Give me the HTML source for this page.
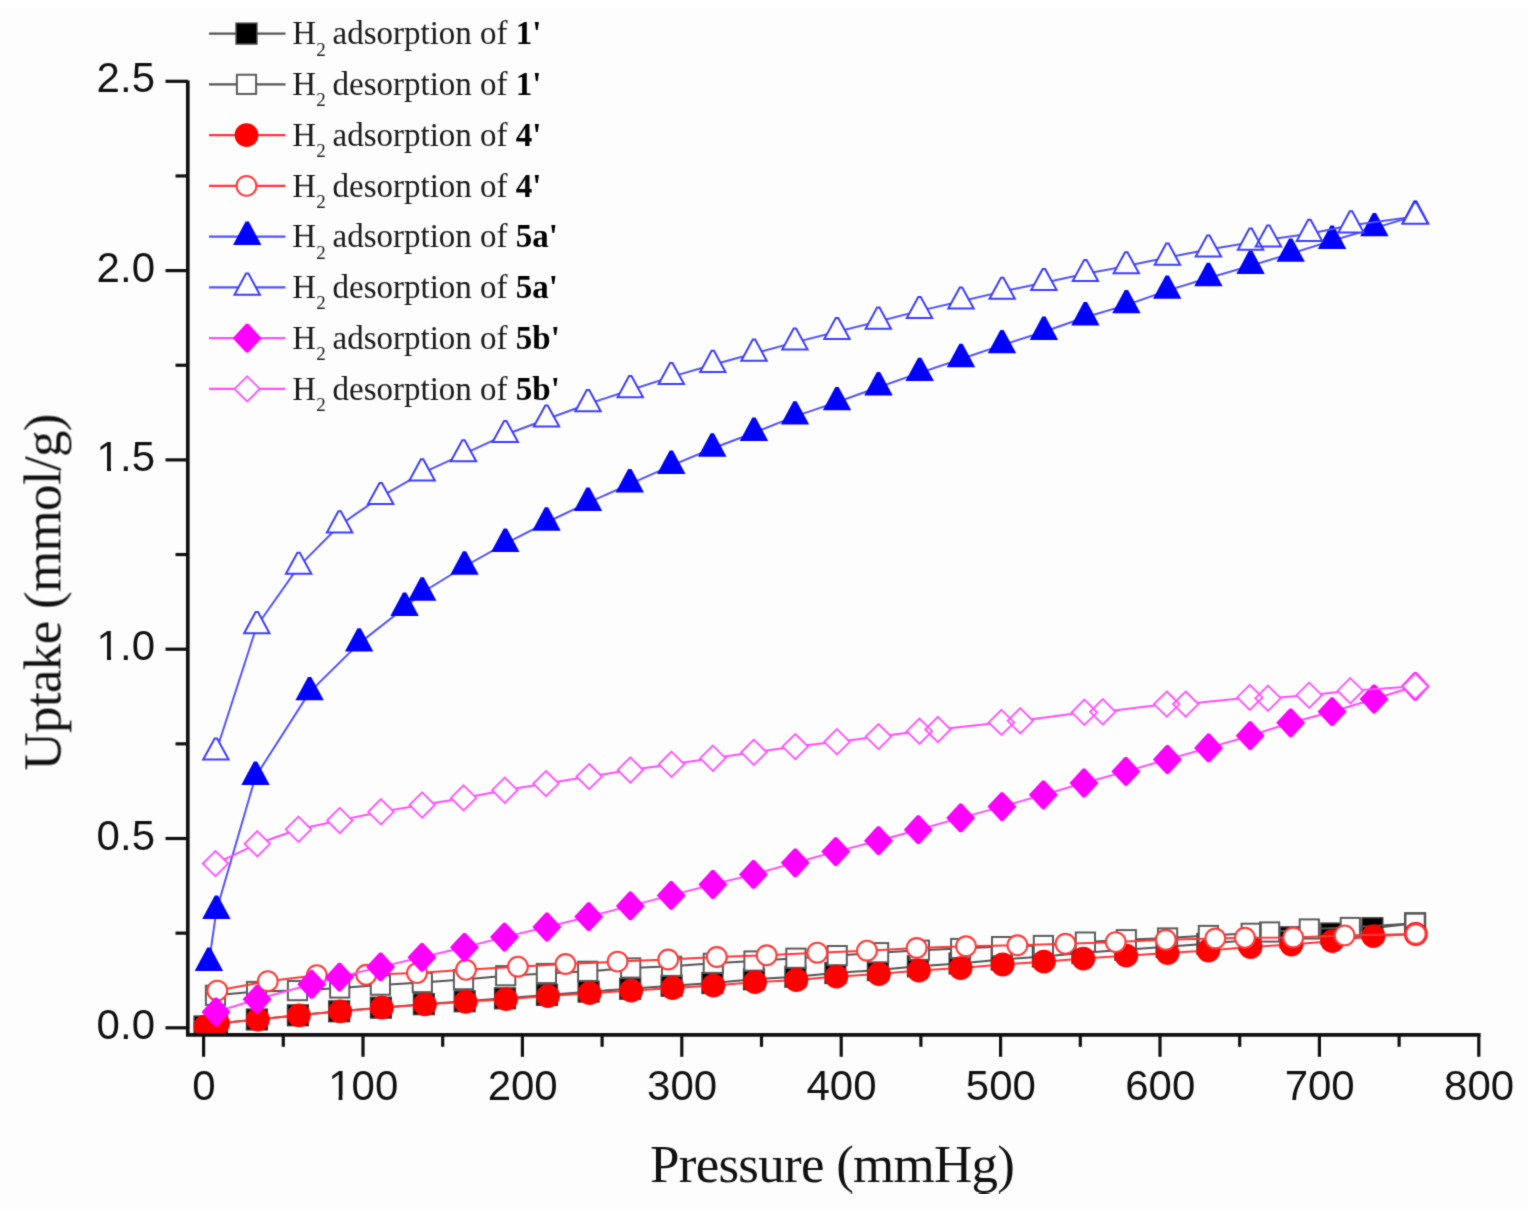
<!DOCTYPE html>
<html><head><meta charset="utf-8"><title>H2 uptake</title>
<style>
html,body{margin:0;padding:0;background:#fdfdfd;}
body{width:1528px;height:1211px;overflow:hidden;}
svg{display:block;}
.tk{font-family:"Liberation Sans",Arial,sans-serif;font-size:42px;fill:#111;}
.ttl{font-family:"Liberation Serif","Times New Roman",serif;font-size:53px;fill:#111;}
.lg{font-family:"Liberation Serif","Times New Roman",serif;font-size:33px;fill:#1a1a1a;}
.sub{font-size:19px;}
.b{font-weight:bold;fill:#000;}
</style></head>
<body>
<svg width="1528" height="1211" viewBox="0 0 1528 1211">
<rect x="0" y="0" width="1528" height="1211" fill="#fdfdfd"/>
<rect x="0" y="0" width="1528" height="8" fill="#fff"/>
<rect x="0" y="1209" width="1528" height="2" fill="#fff"/>
<defs><filter id="soft" x="0" y="0" width="1" height="1" color-interpolation-filters="sRGB"><feConvolveMatrix order="3" kernelMatrix="0.0367 0.1915 0.0367 0.1915 1.0000 0.1915 0.0367 0.1915 0.0367" edgeMode="duplicate"/></filter></defs>
<g filter="url(#soft)">
<defs><clipPath id="pc"><rect x="187.8" y="0" width="1340.2" height="1034.9"/></clipPath></defs>
<g id="plot" clip-path="url(#pc)">
<polyline points="204.5,1026.5 217,1023.5 256.9,1019.5 297.9,1015.3 339.2,1011.3 380.9,1007.7 423.9,1004.2 464.7,1001.26 505,998.33 547,994.88 588.6,991.64 630.2,988.8 671.6,985.76 712.4,983.03 754,979.28 795.4,976.74 835.4,973.02 877.9,970.07 917.9,966.34 959.6,963.5 1001.7,959.55 1042.9,956.41 1082.4,952.99 1125.3,949.73 1166.6,946.8 1207.4,943.86 1249.5,940.01 1290.4,937.28 1331.3,933.54 1372.4,928.2 1415.1,923.3" fill="none" stroke="#555555" stroke-width="2" stroke-linejoin="round"/>
<rect x="194.2" y="1016.2" width="20.6" height="20.6" fill="#000" stroke="#3c3c3c" stroke-width="1.6"/>
<rect x="206.7" y="1013.2" width="20.6" height="20.6" fill="#000" stroke="#3c3c3c" stroke-width="1.6"/>
<rect x="246.6" y="1009.2" width="20.6" height="20.6" fill="#000" stroke="#3c3c3c" stroke-width="1.6"/>
<rect x="287.6" y="1005" width="20.6" height="20.6" fill="#000" stroke="#3c3c3c" stroke-width="1.6"/>
<rect x="328.9" y="1001" width="20.6" height="20.6" fill="#000" stroke="#3c3c3c" stroke-width="1.6"/>
<rect x="370.6" y="997.4" width="20.6" height="20.6" fill="#000" stroke="#3c3c3c" stroke-width="1.6"/>
<rect x="413.6" y="993.9" width="20.6" height="20.6" fill="#000" stroke="#3c3c3c" stroke-width="1.6"/>
<rect x="454.4" y="990.96" width="20.6" height="20.6" fill="#000" stroke="#3c3c3c" stroke-width="1.6"/>
<rect x="494.7" y="988.03" width="20.6" height="20.6" fill="#000" stroke="#3c3c3c" stroke-width="1.6"/>
<rect x="536.7" y="984.58" width="20.6" height="20.6" fill="#000" stroke="#3c3c3c" stroke-width="1.6"/>
<rect x="578.3" y="981.34" width="20.6" height="20.6" fill="#000" stroke="#3c3c3c" stroke-width="1.6"/>
<rect x="619.9" y="978.5" width="20.6" height="20.6" fill="#000" stroke="#3c3c3c" stroke-width="1.6"/>
<rect x="661.3" y="975.46" width="20.6" height="20.6" fill="#000" stroke="#3c3c3c" stroke-width="1.6"/>
<rect x="702.1" y="972.73" width="20.6" height="20.6" fill="#000" stroke="#3c3c3c" stroke-width="1.6"/>
<rect x="743.7" y="968.98" width="20.6" height="20.6" fill="#000" stroke="#3c3c3c" stroke-width="1.6"/>
<rect x="785.1" y="966.44" width="20.6" height="20.6" fill="#000" stroke="#3c3c3c" stroke-width="1.6"/>
<rect x="825.1" y="962.72" width="20.6" height="20.6" fill="#000" stroke="#3c3c3c" stroke-width="1.6"/>
<rect x="867.6" y="959.77" width="20.6" height="20.6" fill="#000" stroke="#3c3c3c" stroke-width="1.6"/>
<rect x="907.6" y="956.04" width="20.6" height="20.6" fill="#000" stroke="#3c3c3c" stroke-width="1.6"/>
<rect x="949.3" y="953.2" width="20.6" height="20.6" fill="#000" stroke="#3c3c3c" stroke-width="1.6"/>
<rect x="991.4" y="949.25" width="20.6" height="20.6" fill="#000" stroke="#3c3c3c" stroke-width="1.6"/>
<rect x="1032.6" y="946.11" width="20.6" height="20.6" fill="#000" stroke="#3c3c3c" stroke-width="1.6"/>
<rect x="1072.1" y="942.69" width="20.6" height="20.6" fill="#000" stroke="#3c3c3c" stroke-width="1.6"/>
<rect x="1115" y="939.43" width="20.6" height="20.6" fill="#000" stroke="#3c3c3c" stroke-width="1.6"/>
<rect x="1156.3" y="936.5" width="20.6" height="20.6" fill="#000" stroke="#3c3c3c" stroke-width="1.6"/>
<rect x="1197.1" y="933.56" width="20.6" height="20.6" fill="#000" stroke="#3c3c3c" stroke-width="1.6"/>
<rect x="1239.2" y="929.71" width="20.6" height="20.6" fill="#000" stroke="#3c3c3c" stroke-width="1.6"/>
<rect x="1280.1" y="926.98" width="20.6" height="20.6" fill="#000" stroke="#3c3c3c" stroke-width="1.6"/>
<rect x="1321" y="923.24" width="20.6" height="20.6" fill="#000" stroke="#3c3c3c" stroke-width="1.6"/>
<rect x="1362.1" y="917.9" width="20.6" height="20.6" fill="#000" stroke="#3c3c3c" stroke-width="1.6"/>
<rect x="1404.8" y="913" width="20.6" height="20.6" fill="#000" stroke="#3c3c3c" stroke-width="1.6"/>
<polyline points="215.5,995.3 256.6,991.5 297.5,990.6 339.7,988 380.4,985.1 422.3,982.5 463.5,979.6 505.7,975.7 546.4,973.5 587.7,971.3 630.7,968 671.6,966.3 713.3,963.3 754,961 795.9,958.2 837.2,955.6 878.6,952.7 919.4,950.2 960.7,948.5 1001.6,946.6 1043.4,945.5 1085.4,942.1 1126.3,939.7 1167.6,938 1208.4,935.5 1251.2,933.3 1269.6,932 1309.3,929 1350.3,927.5 1415.1,923.3" fill="none" stroke="#555555" stroke-width="2" stroke-linejoin="round"/>
<g fill="#fff" stroke="none"><rect x="1405.5" y="913.7" width="19.2" height="19.2"/><rect x="1340.7" y="917.9" width="19.2" height="19.2"/><rect x="1299.7" y="919.4" width="19.2" height="19.2"/><rect x="1260" y="922.4" width="19.2" height="19.2"/><rect x="1241.6" y="923.7" width="19.2" height="19.2"/><rect x="1198.8" y="925.9" width="19.2" height="19.2"/><rect x="1158" y="928.4" width="19.2" height="19.2"/><rect x="1116.7" y="930.1" width="19.2" height="19.2"/><rect x="1075.8" y="932.5" width="19.2" height="19.2"/><rect x="1033.8" y="935.9" width="19.2" height="19.2"/><rect x="992" y="937" width="19.2" height="19.2"/><rect x="951.1" y="938.9" width="19.2" height="19.2"/><rect x="909.8" y="940.6" width="19.2" height="19.2"/><rect x="869" y="943.1" width="19.2" height="19.2"/><rect x="827.6" y="946" width="19.2" height="19.2"/><rect x="786.3" y="948.6" width="19.2" height="19.2"/><rect x="744.4" y="951.4" width="19.2" height="19.2"/><rect x="703.7" y="953.7" width="19.2" height="19.2"/><rect x="662" y="956.7" width="19.2" height="19.2"/><rect x="621.1" y="958.4" width="19.2" height="19.2"/><rect x="578.1" y="961.7" width="19.2" height="19.2"/><rect x="536.8" y="963.9" width="19.2" height="19.2"/><rect x="496.1" y="966.1" width="19.2" height="19.2"/><rect x="453.9" y="970" width="19.2" height="19.2"/><rect x="412.7" y="972.9" width="19.2" height="19.2"/><rect x="370.8" y="975.5" width="19.2" height="19.2"/><rect x="330.1" y="978.4" width="19.2" height="19.2"/><rect x="287.9" y="981" width="19.2" height="19.2"/><rect x="247" y="981.9" width="19.2" height="19.2"/><rect x="205.9" y="985.7" width="19.2" height="19.2"/></g><g fill="none" stroke="#5c5c5c" stroke-width="2" stroke-linejoin="miter"><rect x="1405.5" y="913.7" width="19.2" height="19.2"/><rect x="1340.7" y="917.9" width="19.2" height="19.2"/><rect x="1299.7" y="919.4" width="19.2" height="19.2"/><rect x="1260" y="922.4" width="19.2" height="19.2"/><rect x="1241.6" y="923.7" width="19.2" height="19.2"/><rect x="1198.8" y="925.9" width="19.2" height="19.2"/><rect x="1158" y="928.4" width="19.2" height="19.2"/><rect x="1116.7" y="930.1" width="19.2" height="19.2"/><rect x="1075.8" y="932.5" width="19.2" height="19.2"/><rect x="1033.8" y="935.9" width="19.2" height="19.2"/><rect x="992" y="937" width="19.2" height="19.2"/><rect x="951.1" y="938.9" width="19.2" height="19.2"/><rect x="909.8" y="940.6" width="19.2" height="19.2"/><rect x="869" y="943.1" width="19.2" height="19.2"/><rect x="827.6" y="946" width="19.2" height="19.2"/><rect x="786.3" y="948.6" width="19.2" height="19.2"/><rect x="744.4" y="951.4" width="19.2" height="19.2"/><rect x="703.7" y="953.7" width="19.2" height="19.2"/><rect x="662" y="956.7" width="19.2" height="19.2"/><rect x="621.1" y="958.4" width="19.2" height="19.2"/><rect x="578.1" y="961.7" width="19.2" height="19.2"/><rect x="536.8" y="963.9" width="19.2" height="19.2"/><rect x="496.1" y="966.1" width="19.2" height="19.2"/><rect x="453.9" y="970" width="19.2" height="19.2"/><rect x="412.7" y="972.9" width="19.2" height="19.2"/><rect x="370.8" y="975.5" width="19.2" height="19.2"/><rect x="330.1" y="978.4" width="19.2" height="19.2"/><rect x="287.9" y="981" width="19.2" height="19.2"/><rect x="247" y="981.9" width="19.2" height="19.2"/><rect x="205.9" y="985.7" width="19.2" height="19.2"/></g>
<polyline points="205.5,1026.5 218,1023.5 257.9,1019.5 298.9,1015.3 340.2,1011.3 381.9,1007.7 424.9,1004.4 465.7,1001.8 506,999.2 548,996.1 589.6,993.2 631.2,990.7 672.6,988 713.4,985.6 755,982.2 796.4,980 836.4,976.6 878.9,974 918.9,970.6 960.6,968.1 1002.7,964.5 1043.9,961.7 1083.4,958.6 1126.3,955.7 1167.6,953.1 1208.4,950.5 1250.5,947 1291.4,944.6 1332.3,941.2 1373.4,936.2 1415.8,934" fill="none" stroke="#ff3636" stroke-width="2" stroke-linejoin="round"/>
<circle cx="205.5" cy="1026.5" r="11.9" fill="#f00"/>
<circle cx="218" cy="1023.5" r="11.9" fill="#f00"/>
<circle cx="257.9" cy="1019.5" r="11.9" fill="#f00"/>
<circle cx="298.9" cy="1015.3" r="11.9" fill="#f00"/>
<circle cx="340.2" cy="1011.3" r="11.9" fill="#f00"/>
<circle cx="381.9" cy="1007.7" r="11.9" fill="#f00"/>
<circle cx="424.9" cy="1004.4" r="11.9" fill="#f00"/>
<circle cx="465.7" cy="1001.8" r="11.9" fill="#f00"/>
<circle cx="506" cy="999.2" r="11.9" fill="#f00"/>
<circle cx="548" cy="996.1" r="11.9" fill="#f00"/>
<circle cx="589.6" cy="993.2" r="11.9" fill="#f00"/>
<circle cx="631.2" cy="990.7" r="11.9" fill="#f00"/>
<circle cx="672.6" cy="988" r="11.9" fill="#f00"/>
<circle cx="713.4" cy="985.6" r="11.9" fill="#f00"/>
<circle cx="755" cy="982.2" r="11.9" fill="#f00"/>
<circle cx="796.4" cy="980" r="11.9" fill="#f00"/>
<circle cx="836.4" cy="976.6" r="11.9" fill="#f00"/>
<circle cx="878.9" cy="974" r="11.9" fill="#f00"/>
<circle cx="918.9" cy="970.6" r="11.9" fill="#f00"/>
<circle cx="960.6" cy="968.1" r="11.9" fill="#f00"/>
<circle cx="1002.7" cy="964.5" r="11.9" fill="#f00"/>
<circle cx="1043.9" cy="961.7" r="11.9" fill="#f00"/>
<circle cx="1083.4" cy="958.6" r="11.9" fill="#f00"/>
<circle cx="1126.3" cy="955.7" r="11.9" fill="#f00"/>
<circle cx="1167.6" cy="953.1" r="11.9" fill="#f00"/>
<circle cx="1208.4" cy="950.5" r="11.9" fill="#f00"/>
<circle cx="1250.5" cy="947" r="11.9" fill="#f00"/>
<circle cx="1291.4" cy="944.6" r="11.9" fill="#f00"/>
<circle cx="1332.3" cy="941.2" r="11.9" fill="#f00"/>
<circle cx="1373.4" cy="936.2" r="11.9" fill="#f00"/>
<circle cx="1415.8" cy="934" r="11.9" fill="#f00"/>
<polyline points="217.3,990.6 267.8,981.2 316.8,975.2 366.2,974.8 417,973.1 466,969.8 517.9,966.7 565.5,964 617.6,961.6 668.2,959.5 716.8,957 766.7,955.3 817.3,952.7 867,950.7 916.7,948 966,946.3 1017.4,945.3 1065.5,943.8 1115.7,942.1 1165.8,939.8 1215.3,938.5 1244.9,937.8 1293.2,937.5 1344.6,935.4 1415.8,934" fill="none" stroke="#ff3636" stroke-width="2" stroke-linejoin="round"/>
<g fill="#fff" stroke="none"><circle cx="1415.8" cy="934" r="9.9"/><circle cx="1344.6" cy="935.4" r="9.9"/><circle cx="1293.2" cy="937.5" r="9.9"/><circle cx="1244.9" cy="937.8" r="9.9"/><circle cx="1215.3" cy="938.5" r="9.9"/><circle cx="1165.8" cy="939.8" r="9.9"/><circle cx="1115.7" cy="942.1" r="9.9"/><circle cx="1065.5" cy="943.8" r="9.9"/><circle cx="1017.4" cy="945.3" r="9.9"/><circle cx="966" cy="946.3" r="9.9"/><circle cx="916.7" cy="948" r="9.9"/><circle cx="867" cy="950.7" r="9.9"/><circle cx="817.3" cy="952.7" r="9.9"/><circle cx="766.7" cy="955.3" r="9.9"/><circle cx="716.8" cy="957" r="9.9"/><circle cx="668.2" cy="959.5" r="9.9"/><circle cx="617.6" cy="961.6" r="9.9"/><circle cx="565.5" cy="964" r="9.9"/><circle cx="517.9" cy="966.7" r="9.9"/><circle cx="466" cy="969.8" r="9.9"/><circle cx="417" cy="973.1" r="9.9"/><circle cx="366.2" cy="974.8" r="9.9"/><circle cx="316.8" cy="975.2" r="9.9"/><circle cx="267.8" cy="981.2" r="9.9"/><circle cx="217.3" cy="990.6" r="9.9"/></g><g fill="none" stroke="#ff3c3c" stroke-width="2.1" stroke-linejoin="miter"><circle cx="1415.8" cy="934" r="9.9"/><circle cx="1344.6" cy="935.4" r="9.9"/><circle cx="1293.2" cy="937.5" r="9.9"/><circle cx="1244.9" cy="937.8" r="9.9"/><circle cx="1215.3" cy="938.5" r="9.9"/><circle cx="1165.8" cy="939.8" r="9.9"/><circle cx="1115.7" cy="942.1" r="9.9"/><circle cx="1065.5" cy="943.8" r="9.9"/><circle cx="1017.4" cy="945.3" r="9.9"/><circle cx="966" cy="946.3" r="9.9"/><circle cx="916.7" cy="948" r="9.9"/><circle cx="867" cy="950.7" r="9.9"/><circle cx="817.3" cy="952.7" r="9.9"/><circle cx="766.7" cy="955.3" r="9.9"/><circle cx="716.8" cy="957" r="9.9"/><circle cx="668.2" cy="959.5" r="9.9"/><circle cx="617.6" cy="961.6" r="9.9"/><circle cx="565.5" cy="964" r="9.9"/><circle cx="517.9" cy="966.7" r="9.9"/><circle cx="466" cy="969.8" r="9.9"/><circle cx="417" cy="973.1" r="9.9"/><circle cx="366.2" cy="974.8" r="9.9"/><circle cx="316.8" cy="975.2" r="9.9"/><circle cx="267.8" cy="981.2" r="9.9"/><circle cx="217.3" cy="990.6" r="9.9"/></g>
<polyline points="208.9,962.8 216.4,910.8 255.5,776.7 309.6,692.1 359.1,643.4 404.6,607.8 422.2,592.5 464.5,566.5 505.3,543.7 546.5,522.5 588,502.7 629.8,484.2 671.3,465.7 712.3,448.5 754,432.7 795,416.4 837,402.1 878.5,387.3 919.7,372.9 961,359 1002,345.1 1043.9,331.7 1085.4,317.3 1126.4,305.1 1167.2,290.6 1208.4,278 1250.6,265.8 1290.7,253.6 1332.1,240.8 1374.4,228.1 1415.3,215.8" fill="none" stroke="#5252ff" stroke-width="2" stroke-linejoin="round"/>
<polygon points="207.3,947.6 210.5,947.6 223.1,971 194.7,971" fill="#00f"/>
<polygon points="214.8,895.6 218,895.6 230.6,919 202.2,919" fill="#00f"/>
<polygon points="253.9,761.5 257.1,761.5 269.7,784.9 241.3,784.9" fill="#00f"/>
<polygon points="308,676.9 311.2,676.9 323.8,700.3 295.4,700.3" fill="#00f"/>
<polygon points="357.5,628.2 360.7,628.2 373.3,651.6 344.9,651.6" fill="#00f"/>
<polygon points="403,592.6 406.2,592.6 418.8,616 390.4,616" fill="#00f"/>
<polygon points="420.6,577.3 423.8,577.3 436.4,600.7 408,600.7" fill="#00f"/>
<polygon points="462.9,551.3 466.1,551.3 478.7,574.7 450.3,574.7" fill="#00f"/>
<polygon points="503.7,528.5 506.9,528.5 519.5,551.9 491.1,551.9" fill="#00f"/>
<polygon points="544.9,507.3 548.1,507.3 560.7,530.7 532.3,530.7" fill="#00f"/>
<polygon points="586.4,487.5 589.6,487.5 602.2,510.9 573.8,510.9" fill="#00f"/>
<polygon points="628.2,469 631.4,469 644,492.4 615.6,492.4" fill="#00f"/>
<polygon points="669.7,450.5 672.9,450.5 685.5,473.9 657.1,473.9" fill="#00f"/>
<polygon points="710.7,433.3 713.9,433.3 726.5,456.7 698.1,456.7" fill="#00f"/>
<polygon points="752.4,417.5 755.6,417.5 768.2,440.9 739.8,440.9" fill="#00f"/>
<polygon points="793.4,401.2 796.6,401.2 809.2,424.6 780.8,424.6" fill="#00f"/>
<polygon points="835.4,386.9 838.6,386.9 851.2,410.3 822.8,410.3" fill="#00f"/>
<polygon points="876.9,372.1 880.1,372.1 892.7,395.5 864.3,395.5" fill="#00f"/>
<polygon points="918.1,357.7 921.3,357.7 933.9,381.1 905.5,381.1" fill="#00f"/>
<polygon points="959.4,343.8 962.6,343.8 975.2,367.2 946.8,367.2" fill="#00f"/>
<polygon points="1000.4,329.9 1003.6,329.9 1016.2,353.3 987.8,353.3" fill="#00f"/>
<polygon points="1042.3,316.5 1045.5,316.5 1058.1,339.9 1029.7,339.9" fill="#00f"/>
<polygon points="1083.8,302.1 1087,302.1 1099.6,325.5 1071.2,325.5" fill="#00f"/>
<polygon points="1124.8,289.9 1128,289.9 1140.6,313.3 1112.2,313.3" fill="#00f"/>
<polygon points="1165.6,275.4 1168.8,275.4 1181.4,298.8 1153,298.8" fill="#00f"/>
<polygon points="1206.8,262.8 1210,262.8 1222.6,286.2 1194.2,286.2" fill="#00f"/>
<polygon points="1249,250.6 1252.2,250.6 1264.8,274 1236.4,274" fill="#00f"/>
<polygon points="1289.1,238.4 1292.3,238.4 1304.9,261.8 1276.5,261.8" fill="#00f"/>
<polygon points="1330.5,225.6 1333.7,225.6 1346.3,249 1317.9,249" fill="#00f"/>
<polygon points="1372.8,212.9 1376,212.9 1388.6,236.3 1360.2,236.3" fill="#00f"/>
<polygon points="1413.7,200.6 1416.9,200.6 1429.5,224 1401.1,224" fill="#00f"/>
<polyline points="215.9,752.3 256.8,626 298.6,566.6 339.6,525.2 380.7,496.9 422.1,473.2 463.5,454.1 505.3,434.8 546.5,419.3 588,404 630.3,390 671.3,376.9 712.8,364.7 754,353.5 794.9,342.4 837,331.8 878.3,321.5 919.5,310.9 961,301.3 1002.2,291.6 1043.9,282.8 1085.4,273.8 1126.3,266.1 1167.4,257.5 1208.4,249.4 1250.6,242.5 1268.4,239.4 1309.4,233.7 1351,225.2 1415.3,216.6" fill="none" stroke="#5252ff" stroke-width="2" stroke-linejoin="round"/>
<g fill="#fff" stroke="none"><polygon points="1414.1,202.7 1416.5,202.7 1428,223.8 1402.6,223.8"/><polygon points="1349.8,211.3 1352.2,211.3 1363.7,232.4 1338.3,232.4"/><polygon points="1308.2,219.8 1310.6,219.8 1322.1,240.9 1296.7,240.9"/><polygon points="1267.2,225.5 1269.6,225.5 1281.1,246.6 1255.7,246.6"/><polygon points="1249.4,228.6 1251.8,228.6 1263.3,249.7 1237.9,249.7"/><polygon points="1207.2,235.5 1209.6,235.5 1221.1,256.6 1195.7,256.6"/><polygon points="1166.2,243.6 1168.6,243.6 1180.1,264.7 1154.7,264.7"/><polygon points="1125.1,252.2 1127.5,252.2 1139,273.3 1113.6,273.3"/><polygon points="1084.2,259.9 1086.6,259.9 1098.1,281 1072.7,281"/><polygon points="1042.7,268.9 1045.1,268.9 1056.6,290 1031.2,290"/><polygon points="1001,277.7 1003.4,277.7 1014.9,298.8 989.5,298.8"/><polygon points="959.8,287.4 962.2,287.4 973.7,308.5 948.3,308.5"/><polygon points="918.3,297 920.7,297 932.2,318.1 906.8,318.1"/><polygon points="877.1,307.6 879.5,307.6 891,328.7 865.6,328.7"/><polygon points="835.8,317.9 838.2,317.9 849.7,339 824.3,339"/><polygon points="793.7,328.5 796.1,328.5 807.6,349.6 782.2,349.6"/><polygon points="752.8,339.6 755.2,339.6 766.7,360.7 741.3,360.7"/><polygon points="711.6,350.8 714,350.8 725.5,371.9 700.1,371.9"/><polygon points="670.1,363 672.5,363 684,384.1 658.6,384.1"/><polygon points="629.1,376.1 631.5,376.1 643,397.2 617.6,397.2"/><polygon points="586.8,390.1 589.2,390.1 600.7,411.2 575.3,411.2"/><polygon points="545.3,405.4 547.7,405.4 559.2,426.5 533.8,426.5"/><polygon points="504.1,420.9 506.5,420.9 518,442 492.6,442"/><polygon points="462.3,440.2 464.7,440.2 476.2,461.3 450.8,461.3"/><polygon points="420.9,459.3 423.3,459.3 434.8,480.4 409.4,480.4"/><polygon points="379.5,483 381.9,483 393.4,504.1 368,504.1"/><polygon points="338.4,511.3 340.8,511.3 352.3,532.4 326.9,532.4"/><polygon points="297.4,552.7 299.8,552.7 311.3,573.8 285.9,573.8"/><polygon points="255.6,612.1 258,612.1 269.5,633.2 244.1,633.2"/><polygon points="214.7,738.4 217.1,738.4 228.6,759.5 203.2,759.5"/></g><g fill="none" stroke="#3d3dff" stroke-width="2" stroke-linejoin="miter"><polygon points="1414.1,202.7 1416.5,202.7 1428,223.8 1402.6,223.8"/><polygon points="1349.8,211.3 1352.2,211.3 1363.7,232.4 1338.3,232.4"/><polygon points="1308.2,219.8 1310.6,219.8 1322.1,240.9 1296.7,240.9"/><polygon points="1267.2,225.5 1269.6,225.5 1281.1,246.6 1255.7,246.6"/><polygon points="1249.4,228.6 1251.8,228.6 1263.3,249.7 1237.9,249.7"/><polygon points="1207.2,235.5 1209.6,235.5 1221.1,256.6 1195.7,256.6"/><polygon points="1166.2,243.6 1168.6,243.6 1180.1,264.7 1154.7,264.7"/><polygon points="1125.1,252.2 1127.5,252.2 1139,273.3 1113.6,273.3"/><polygon points="1084.2,259.9 1086.6,259.9 1098.1,281 1072.7,281"/><polygon points="1042.7,268.9 1045.1,268.9 1056.6,290 1031.2,290"/><polygon points="1001,277.7 1003.4,277.7 1014.9,298.8 989.5,298.8"/><polygon points="959.8,287.4 962.2,287.4 973.7,308.5 948.3,308.5"/><polygon points="918.3,297 920.7,297 932.2,318.1 906.8,318.1"/><polygon points="877.1,307.6 879.5,307.6 891,328.7 865.6,328.7"/><polygon points="835.8,317.9 838.2,317.9 849.7,339 824.3,339"/><polygon points="793.7,328.5 796.1,328.5 807.6,349.6 782.2,349.6"/><polygon points="752.8,339.6 755.2,339.6 766.7,360.7 741.3,360.7"/><polygon points="711.6,350.8 714,350.8 725.5,371.9 700.1,371.9"/><polygon points="670.1,363 672.5,363 684,384.1 658.6,384.1"/><polygon points="629.1,376.1 631.5,376.1 643,397.2 617.6,397.2"/><polygon points="586.8,390.1 589.2,390.1 600.7,411.2 575.3,411.2"/><polygon points="545.3,405.4 547.7,405.4 559.2,426.5 533.8,426.5"/><polygon points="504.1,420.9 506.5,420.9 518,442 492.6,442"/><polygon points="462.3,440.2 464.7,440.2 476.2,461.3 450.8,461.3"/><polygon points="420.9,459.3 423.3,459.3 434.8,480.4 409.4,480.4"/><polygon points="379.5,483 381.9,483 393.4,504.1 368,504.1"/><polygon points="338.4,511.3 340.8,511.3 352.3,532.4 326.9,532.4"/><polygon points="297.4,552.7 299.8,552.7 311.3,573.8 285.9,573.8"/><polygon points="255.6,612.1 258,612.1 269.5,633.2 244.1,633.2"/><polygon points="214.7,738.4 217.1,738.4 228.6,759.5 203.2,759.5"/></g>
<polyline points="216,1012 257.1,999.3 311.7,984.3 339.5,977.2 380.6,966.9 422,957.3 464.5,947.3 504.5,937.1 546.9,927 588.7,916.7 630.4,905.9 671.2,895.4 712.9,884.5 753.5,874.4 795.3,862.8 835.8,851.6 878.5,840.7 918.3,829.7 960.7,817.9 1002,806.6 1043.4,794.8 1084,783 1125.9,771.4 1167.4,759.5 1208.6,747.9 1250.2,735.7 1290.7,722.8 1332.1,711.7 1374.1,699 1415.3,686.3" fill="none" stroke="#ff4dff" stroke-width="2" stroke-linejoin="round"/>
<polygon points="214.8,997.6 217.2,997.6 230.5,1012 217.2,1026.4 214.8,1026.4 201.5,1012" fill="#f0f"/>
<polygon points="255.9,984.9 258.3,984.9 271.6,999.3 258.3,1013.7 255.9,1013.7 242.6,999.3" fill="#f0f"/>
<polygon points="310.5,969.9 312.9,969.9 326.2,984.3 312.9,998.7 310.5,998.7 297.2,984.3" fill="#f0f"/>
<polygon points="338.3,962.8 340.7,962.8 354,977.2 340.7,991.6 338.3,991.6 325,977.2" fill="#f0f"/>
<polygon points="379.4,952.5 381.8,952.5 395.1,966.9 381.8,981.3 379.4,981.3 366.1,966.9" fill="#f0f"/>
<polygon points="420.8,942.9 423.2,942.9 436.5,957.3 423.2,971.7 420.8,971.7 407.5,957.3" fill="#f0f"/>
<polygon points="463.3,932.9 465.7,932.9 479,947.3 465.7,961.7 463.3,961.7 450,947.3" fill="#f0f"/>
<polygon points="503.3,922.7 505.7,922.7 519,937.1 505.7,951.5 503.3,951.5 490,937.1" fill="#f0f"/>
<polygon points="545.7,912.6 548.1,912.6 561.4,927 548.1,941.4 545.7,941.4 532.4,927" fill="#f0f"/>
<polygon points="587.5,902.3 589.9,902.3 603.2,916.7 589.9,931.1 587.5,931.1 574.2,916.7" fill="#f0f"/>
<polygon points="629.2,891.5 631.6,891.5 644.9,905.9 631.6,920.3 629.2,920.3 615.9,905.9" fill="#f0f"/>
<polygon points="670,881 672.4,881 685.7,895.4 672.4,909.8 670,909.8 656.7,895.4" fill="#f0f"/>
<polygon points="711.7,870.1 714.1,870.1 727.4,884.5 714.1,898.9 711.7,898.9 698.4,884.5" fill="#f0f"/>
<polygon points="752.3,860 754.7,860 768,874.4 754.7,888.8 752.3,888.8 739,874.4" fill="#f0f"/>
<polygon points="794.1,848.4 796.5,848.4 809.8,862.8 796.5,877.2 794.1,877.2 780.8,862.8" fill="#f0f"/>
<polygon points="834.6,837.2 837,837.2 850.3,851.6 837,866 834.6,866 821.3,851.6" fill="#f0f"/>
<polygon points="877.3,826.3 879.7,826.3 893,840.7 879.7,855.1 877.3,855.1 864,840.7" fill="#f0f"/>
<polygon points="917.1,815.3 919.5,815.3 932.8,829.7 919.5,844.1 917.1,844.1 903.8,829.7" fill="#f0f"/>
<polygon points="959.5,803.5 961.9,803.5 975.2,817.9 961.9,832.3 959.5,832.3 946.2,817.9" fill="#f0f"/>
<polygon points="1000.8,792.2 1003.2,792.2 1016.5,806.6 1003.2,821 1000.8,821 987.5,806.6" fill="#f0f"/>
<polygon points="1042.2,780.4 1044.6,780.4 1057.9,794.8 1044.6,809.2 1042.2,809.2 1028.9,794.8" fill="#f0f"/>
<polygon points="1082.8,768.6 1085.2,768.6 1098.5,783 1085.2,797.4 1082.8,797.4 1069.5,783" fill="#f0f"/>
<polygon points="1124.7,757 1127.1,757 1140.4,771.4 1127.1,785.8 1124.7,785.8 1111.4,771.4" fill="#f0f"/>
<polygon points="1166.2,745.1 1168.6,745.1 1181.9,759.5 1168.6,773.9 1166.2,773.9 1152.9,759.5" fill="#f0f"/>
<polygon points="1207.4,733.5 1209.8,733.5 1223.1,747.9 1209.8,762.3 1207.4,762.3 1194.1,747.9" fill="#f0f"/>
<polygon points="1249,721.3 1251.4,721.3 1264.7,735.7 1251.4,750.1 1249,750.1 1235.7,735.7" fill="#f0f"/>
<polygon points="1289.5,708.4 1291.9,708.4 1305.2,722.8 1291.9,737.2 1289.5,737.2 1276.2,722.8" fill="#f0f"/>
<polygon points="1330.9,697.3 1333.3,697.3 1346.6,711.7 1333.3,726.1 1330.9,726.1 1317.6,711.7" fill="#f0f"/>
<polygon points="1372.9,684.6 1375.3,684.6 1388.6,699 1375.3,713.4 1372.9,713.4 1359.6,699" fill="#f0f"/>
<polygon points="1414.1,671.9 1416.5,671.9 1429.8,686.3 1416.5,700.7 1414.1,700.7 1400.8,686.3" fill="#f0f"/>
<polyline points="215.5,863.6 257.3,843.8 298.5,829.3 339.8,820.5 381,811.8 422.2,805 463.6,797.9 504.8,790.2 546,783.6 589.2,776.6 630.4,770 671.6,764.3 712.9,758.2 753.9,752.3 795.3,746.6 837,741.8 878.5,736.6 919.5,731.2 937.9,729.5 1001.5,722.4 1020.3,720.8 1084.4,712.3 1102.8,711.8 1166.8,704.1 1185.7,704.1 1249.8,697.4 1268,698.3 1309.2,695.2 1350.3,690.7 1415.3,686.3" fill="none" stroke="#ff4dff" stroke-width="2" stroke-linejoin="round"/>
<g fill="#fff" stroke="none"><polygon points="1415.3,673.7 1428,686.3 1415.3,698.9 1402.6,686.3"/><polygon points="1350.3,678.1 1363,690.7 1350.3,703.3 1337.6,690.7"/><polygon points="1309.2,682.6 1321.9,695.2 1309.2,707.8 1296.5,695.2"/><polygon points="1268,685.7 1280.7,698.3 1268,710.9 1255.3,698.3"/><polygon points="1249.8,684.8 1262.5,697.4 1249.8,710 1237.1,697.4"/><polygon points="1185.7,691.5 1198.4,704.1 1185.7,716.7 1173,704.1"/><polygon points="1166.8,691.5 1179.5,704.1 1166.8,716.7 1154.1,704.1"/><polygon points="1102.8,699.2 1115.5,711.8 1102.8,724.4 1090.1,711.8"/><polygon points="1084.4,699.7 1097.1,712.3 1084.4,724.9 1071.7,712.3"/><polygon points="1020.3,708.2 1033,720.8 1020.3,733.4 1007.6,720.8"/><polygon points="1001.5,709.8 1014.2,722.4 1001.5,735 988.8,722.4"/><polygon points="937.9,716.9 950.6,729.5 937.9,742.1 925.2,729.5"/><polygon points="919.5,718.6 932.2,731.2 919.5,743.8 906.8,731.2"/><polygon points="878.5,724 891.2,736.6 878.5,749.2 865.8,736.6"/><polygon points="837,729.2 849.7,741.8 837,754.4 824.3,741.8"/><polygon points="795.3,734 808,746.6 795.3,759.2 782.6,746.6"/><polygon points="753.9,739.7 766.6,752.3 753.9,764.9 741.2,752.3"/><polygon points="712.9,745.6 725.6,758.2 712.9,770.8 700.2,758.2"/><polygon points="671.6,751.7 684.3,764.3 671.6,776.9 658.9,764.3"/><polygon points="630.4,757.4 643.1,770 630.4,782.6 617.7,770"/><polygon points="589.2,764 601.9,776.6 589.2,789.2 576.5,776.6"/><polygon points="546,771 558.7,783.6 546,796.2 533.3,783.6"/><polygon points="504.8,777.6 517.5,790.2 504.8,802.8 492.1,790.2"/><polygon points="463.6,785.3 476.3,797.9 463.6,810.5 450.9,797.9"/><polygon points="422.2,792.4 434.9,805 422.2,817.6 409.5,805"/><polygon points="381,799.2 393.7,811.8 381,824.4 368.3,811.8"/><polygon points="339.8,807.9 352.5,820.5 339.8,833.1 327.1,820.5"/><polygon points="298.5,816.7 311.2,829.3 298.5,841.9 285.8,829.3"/><polygon points="257.3,831.2 270,843.8 257.3,856.4 244.6,843.8"/><polygon points="215.5,851 228.2,863.6 215.5,876.2 202.8,863.6"/></g><g fill="none" stroke="#ff55ff" stroke-width="1.9" stroke-linejoin="miter"><polygon points="1415.3,673.7 1428,686.3 1415.3,698.9 1402.6,686.3"/><polygon points="1350.3,678.1 1363,690.7 1350.3,703.3 1337.6,690.7"/><polygon points="1309.2,682.6 1321.9,695.2 1309.2,707.8 1296.5,695.2"/><polygon points="1268,685.7 1280.7,698.3 1268,710.9 1255.3,698.3"/><polygon points="1249.8,684.8 1262.5,697.4 1249.8,710 1237.1,697.4"/><polygon points="1185.7,691.5 1198.4,704.1 1185.7,716.7 1173,704.1"/><polygon points="1166.8,691.5 1179.5,704.1 1166.8,716.7 1154.1,704.1"/><polygon points="1102.8,699.2 1115.5,711.8 1102.8,724.4 1090.1,711.8"/><polygon points="1084.4,699.7 1097.1,712.3 1084.4,724.9 1071.7,712.3"/><polygon points="1020.3,708.2 1033,720.8 1020.3,733.4 1007.6,720.8"/><polygon points="1001.5,709.8 1014.2,722.4 1001.5,735 988.8,722.4"/><polygon points="937.9,716.9 950.6,729.5 937.9,742.1 925.2,729.5"/><polygon points="919.5,718.6 932.2,731.2 919.5,743.8 906.8,731.2"/><polygon points="878.5,724 891.2,736.6 878.5,749.2 865.8,736.6"/><polygon points="837,729.2 849.7,741.8 837,754.4 824.3,741.8"/><polygon points="795.3,734 808,746.6 795.3,759.2 782.6,746.6"/><polygon points="753.9,739.7 766.6,752.3 753.9,764.9 741.2,752.3"/><polygon points="712.9,745.6 725.6,758.2 712.9,770.8 700.2,758.2"/><polygon points="671.6,751.7 684.3,764.3 671.6,776.9 658.9,764.3"/><polygon points="630.4,757.4 643.1,770 630.4,782.6 617.7,770"/><polygon points="589.2,764 601.9,776.6 589.2,789.2 576.5,776.6"/><polygon points="546,771 558.7,783.6 546,796.2 533.3,783.6"/><polygon points="504.8,777.6 517.5,790.2 504.8,802.8 492.1,790.2"/><polygon points="463.6,785.3 476.3,797.9 463.6,810.5 450.9,797.9"/><polygon points="422.2,792.4 434.9,805 422.2,817.6 409.5,805"/><polygon points="381,799.2 393.7,811.8 381,824.4 368.3,811.8"/><polygon points="339.8,807.9 352.5,820.5 339.8,833.1 327.1,820.5"/><polygon points="298.5,816.7 311.2,829.3 298.5,841.9 285.8,829.3"/><polygon points="257.3,831.2 270,843.8 257.3,856.4 244.6,843.8"/><polygon points="215.5,851 228.2,863.6 215.5,876.2 202.8,863.6"/></g>
</g>
<path d="M187.8 80.5 V1034.9 H1480.6" fill="none" stroke="#111" stroke-width="3.7" stroke-linejoin="miter"/>
<line x1="165.5" y1="1027.8" x2="187.8" y2="1027.8" stroke="#111" stroke-width="3.2"/>
<line x1="165.5" y1="838.5" x2="187.8" y2="838.5" stroke="#111" stroke-width="3.2"/>
<line x1="165.5" y1="649.2" x2="187.8" y2="649.2" stroke="#111" stroke-width="3.2"/>
<line x1="165.5" y1="459.9" x2="187.8" y2="459.9" stroke="#111" stroke-width="3.2"/>
<line x1="165.5" y1="270.6" x2="187.8" y2="270.6" stroke="#111" stroke-width="3.2"/>
<line x1="165.5" y1="81.3" x2="187.8" y2="81.3" stroke="#111" stroke-width="3.2"/>
<line x1="175.5" y1="933.15" x2="187.8" y2="933.15" stroke="#111" stroke-width="3.2"/>
<line x1="175.5" y1="743.85" x2="187.8" y2="743.85" stroke="#111" stroke-width="3.2"/>
<line x1="175.5" y1="554.55" x2="187.8" y2="554.55" stroke="#111" stroke-width="3.2"/>
<line x1="175.5" y1="365.25" x2="187.8" y2="365.25" stroke="#111" stroke-width="3.2"/>
<line x1="175.5" y1="175.95" x2="187.8" y2="175.95" stroke="#111" stroke-width="3.2"/>
<line x1="203.6" y1="1034.9" x2="203.6" y2="1056.8" stroke="#111" stroke-width="3.2"/>
<line x1="363" y1="1034.9" x2="363" y2="1056.8" stroke="#111" stroke-width="3.2"/>
<line x1="522.4" y1="1034.9" x2="522.4" y2="1056.8" stroke="#111" stroke-width="3.2"/>
<line x1="681.8" y1="1034.9" x2="681.8" y2="1056.8" stroke="#111" stroke-width="3.2"/>
<line x1="841.2" y1="1034.9" x2="841.2" y2="1056.8" stroke="#111" stroke-width="3.2"/>
<line x1="1000.6" y1="1034.9" x2="1000.6" y2="1056.8" stroke="#111" stroke-width="3.2"/>
<line x1="1160" y1="1034.9" x2="1160" y2="1056.8" stroke="#111" stroke-width="3.2"/>
<line x1="1319.4" y1="1034.9" x2="1319.4" y2="1056.8" stroke="#111" stroke-width="3.2"/>
<line x1="1478.8" y1="1034.9" x2="1478.8" y2="1056.8" stroke="#111" stroke-width="3.2"/>
<line x1="283.3" y1="1034.9" x2="283.3" y2="1046.8" stroke="#111" stroke-width="3.2"/>
<line x1="442.7" y1="1034.9" x2="442.7" y2="1046.8" stroke="#111" stroke-width="3.2"/>
<line x1="602.1" y1="1034.9" x2="602.1" y2="1046.8" stroke="#111" stroke-width="3.2"/>
<line x1="761.5" y1="1034.9" x2="761.5" y2="1046.8" stroke="#111" stroke-width="3.2"/>
<line x1="920.9" y1="1034.9" x2="920.9" y2="1046.8" stroke="#111" stroke-width="3.2"/>
<line x1="1080.3" y1="1034.9" x2="1080.3" y2="1046.8" stroke="#111" stroke-width="3.2"/>
<line x1="1239.7" y1="1034.9" x2="1239.7" y2="1046.8" stroke="#111" stroke-width="3.2"/>
<line x1="1399.1" y1="1034.9" x2="1399.1" y2="1046.8" stroke="#111" stroke-width="3.2"/>
<defs><clipPath id="c10"><path clip-rule="evenodd" d="M0 0H1528V1211H0ZM98 655.5H107V660.5H98ZM111 655.5H120V660.5H111Z"/></clipPath><clipPath id="c15"><path clip-rule="evenodd" d="M0 0H1528V1211H0ZM98 466.5H107V471.5H98ZM111 466.5H120V471.5H111Z"/></clipPath><clipPath id="c100"><path clip-rule="evenodd" d="M0 0H1528V1211H0ZM329 1095.5H338.6V1100.5H329ZM342.4 1095.5H352V1100.5H342.4Z"/></clipPath></defs>
<text x="155" y="1038.8" text-anchor="end" class="tk">0.0</text>
<text x="155" y="849.5" text-anchor="end" class="tk">0.5</text>
<text x="155" y="660.2" text-anchor="end" class="tk" clip-path="url(#c10)">1.0</text>
<text x="155" y="470.9" text-anchor="end" class="tk" clip-path="url(#c15)">1.5</text>
<text x="155" y="281.6" text-anchor="end" class="tk">2.0</text>
<text x="155" y="92.3" text-anchor="end" class="tk">2.5</text>
<text x="203.9" y="1099.6" text-anchor="middle" class="tk">0</text>
<text x="363.3" y="1099.6" text-anchor="middle" class="tk" clip-path="url(#c100)">100</text>
<text x="522.7" y="1099.6" text-anchor="middle" class="tk">200</text>
<text x="682.1" y="1099.6" text-anchor="middle" class="tk">300</text>
<text x="841.5" y="1099.6" text-anchor="middle" class="tk">400</text>
<text x="1000.9" y="1099.6" text-anchor="middle" class="tk">500</text>
<text x="1160.3" y="1099.6" text-anchor="middle" class="tk">600</text>
<text x="1319.7" y="1099.6" text-anchor="middle" class="tk">700</text>
<text x="1479.1" y="1099.6" text-anchor="middle" class="tk">800</text>
<text x="650" y="1181.5" textLength="365" lengthAdjust="spacing" class="ttl">Pressure (mmHg)</text>
<text transform="translate(60.4 770.5) rotate(-90)" textLength="357" lengthAdjust="spacing" class="ttl">Uptake (mmol/g)</text>
<line x1="209" y1="33.6" x2="285.5" y2="33.6" stroke="#555555" stroke-width="2.2"/>
<rect x="236.2" y="23.3" width="20.6" height="20.6" fill="#000" stroke="#3c3c3c" stroke-width="1.6"/>
<text x="292.3" y="44.3" class="lg">H<tspan class="sub" dy="11.3">2</tspan><tspan dx="-1.4" dy="-11.3"> adsorption of </tspan><tspan class="b">1'</tspan></text>
<line x1="209" y1="84.36" x2="285.5" y2="84.36" stroke="#555555" stroke-width="2.2"/>
<g fill="#fff" stroke="none"><rect x="236.9" y="74.76" width="19.2" height="19.2"/></g><g fill="none" stroke="#5c5c5c" stroke-width="2" stroke-linejoin="miter"><rect x="236.9" y="74.76" width="19.2" height="19.2"/></g>
<text x="292.3" y="95.06" class="lg">H<tspan class="sub" dy="11.3">2</tspan><tspan dx="-1.4" dy="-11.3"> desorption of </tspan><tspan class="b">1'</tspan></text>
<line x1="209" y1="135.12" x2="285.5" y2="135.12" stroke="#ff3636" stroke-width="2.2"/>
<circle cx="246.5" cy="135.12" r="11.9" fill="#f00"/>
<text x="292.3" y="145.82" class="lg">H<tspan class="sub" dy="11.3">2</tspan><tspan dx="-1.4" dy="-11.3"> adsorption of </tspan><tspan class="b">4'</tspan></text>
<line x1="209" y1="185.88" x2="285.5" y2="185.88" stroke="#ff3636" stroke-width="2.2"/>
<g fill="#fff" stroke="none"><circle cx="246.5" cy="185.88" r="9.9"/></g><g fill="none" stroke="#ff3c3c" stroke-width="2.1" stroke-linejoin="miter"><circle cx="246.5" cy="185.88" r="9.9"/></g>
<text x="292.3" y="196.58" class="lg">H<tspan class="sub" dy="11.3">2</tspan><tspan dx="-1.4" dy="-11.3"> desorption of </tspan><tspan class="b">4'</tspan></text>
<line x1="209" y1="236.64" x2="285.5" y2="236.64" stroke="#5252ff" stroke-width="2.2"/>
<polygon points="245.6,221.54 248.8,221.54 261.4,244.94 233,244.94" fill="#00f"/>
<text x="292.3" y="247.34" class="lg">H<tspan class="sub" dy="11.3">2</tspan><tspan dx="-1.4" dy="-11.3"> adsorption of </tspan><tspan class="b">5a'</tspan></text>
<line x1="209" y1="287.4" x2="285.5" y2="287.4" stroke="#5252ff" stroke-width="2.2"/>
<g fill="#fff" stroke="none"><polygon points="246,273.6 248.4,273.6 259.9,294.7 234.5,294.7"/></g><g fill="none" stroke="#3d3dff" stroke-width="2" stroke-linejoin="miter"><polygon points="246,273.6 248.4,273.6 259.9,294.7 234.5,294.7"/></g>
<text x="292.3" y="298.1" class="lg">H<tspan class="sub" dy="11.3">2</tspan><tspan dx="-1.4" dy="-11.3"> desorption of </tspan><tspan class="b">5a'</tspan></text>
<line x1="209" y1="338.16" x2="285.5" y2="338.16" stroke="#ff4dff" stroke-width="2.2"/>
<polygon points="246,323.76 248.4,323.76 261.7,338.16 248.4,352.56 246,352.56 232.7,338.16" fill="#f0f"/>
<text x="292.3" y="348.86" class="lg">H<tspan class="sub" dy="11.3">2</tspan><tspan dx="-1.4" dy="-11.3"> adsorption of </tspan><tspan class="b">5b'</tspan></text>
<line x1="209" y1="388.92" x2="285.5" y2="388.92" stroke="#ff4dff" stroke-width="2.2"/>
<g fill="#fff" stroke="none"><polygon points="247.2,376.32 259.9,388.92 247.2,401.52 234.5,388.92"/></g><g fill="none" stroke="#ff55ff" stroke-width="1.9" stroke-linejoin="miter"><polygon points="247.2,376.32 259.9,388.92 247.2,401.52 234.5,388.92"/></g>
<text x="292.3" y="399.62" class="lg">H<tspan class="sub" dy="11.3">2</tspan><tspan dx="-1.4" dy="-11.3"> desorption of </tspan><tspan class="b">5b'</tspan></text>
</g>
</svg>
</body></html>
